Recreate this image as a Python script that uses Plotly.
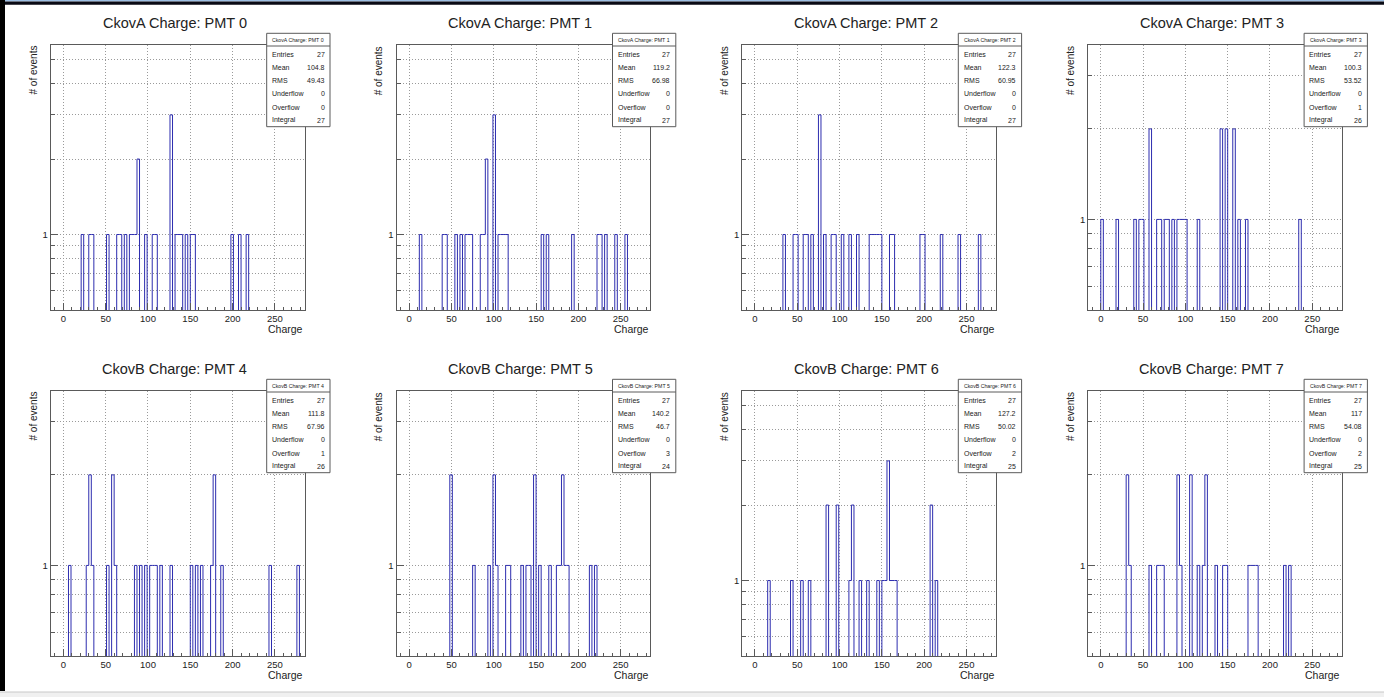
import math
import plotly.graph_objects as go

W, H = 1384, 697

# ---- histogram contents (bin centres of the filled bins and their counts) ----
titles = ["CkovA Charge: PMT 0", "CkovA Charge: PMT 1", "CkovA Charge: PMT 2", "CkovA Charge: PMT 3",
          "CkovB Charge: PMT 4", "CkovB Charge: PMT 5", "CkovB Charge: PMT 6", "CkovB Charge: PMT 7"]

pmt0_charge = [22.5, 31.5, 34.5, 52.5, 64.5, 67.5, 73.5, 79.5, 82.5, 85.5, 88.5, 97.5, 106.5, 109.5,
               127.5, 133.5, 136.5, 139.5, 145.5, 151.5, 154.5, 199.5, 208.5, 217.5]
pmt0_counts = [1, 1, 1, 1, 1, 1, 1, 1, 1, 1, 2, 1, 1, 1, 3, 1, 1, 1, 1, 1, 1, 1, 1, 1]

pmt1_charge = [13.5, 40.5, 43.5, 55.5, 61.5, 67.5, 70.5, 73.5, 85.5, 88.5, 91.5, 100.5, 106.5, 109.5,
               112.5, 115.5, 157.5, 163.5, 193.5, 223.5, 226.5, 232.5, 244.5, 256.5]
pmt1_counts = [1, 1, 1, 1, 1, 1, 1, 1, 1, 1, 2, 3, 1, 1, 1, 1, 1, 1, 1, 1, 1, 1, 1, 1]

pmt2_charge = [34.5, 46.5, 49.5, 58.5, 61.5, 67.5, 76.5, 82.5, 91.5, 94.5, 103.5, 112.5, 121.5, 136.5,
               139.5, 142.5, 145.5, 148.5, 160.5, 163.5, 196.5, 199.5, 220.5, 241.5, 265.5]
pmt2_counts = [1, 1, 1, 1, 1, 1, 3, 1, 1, 1, 1, 1, 1, 1, 1, 1, 1, 1, 1, 1, 1, 1, 1, 1, 1]

pmt3_charge = [1.5, 19.5, 40.5, 46.5, 49.5, 58.5, 67.5, 70.5, 76.5, 79.5, 85.5, 91.5, 94.5, 97.5,
               100.5, 115.5, 142.5, 148.5, 157.5, 163.5, 172.5, 235.5]
pmt3_counts = [1, 1, 1, 1, 1, 2, 1, 1, 1, 1, 1, 1, 1, 1, 1, 1, 2, 2, 2, 1, 1, 1]

pmt4_charge = [7.5, 28.5, 31.5, 34.5, 52.5, 58.5, 61.5, 85.5, 91.5, 97.5, 103.5, 106.5, 109.5, 115.5,
               127.5, 151.5, 157.5, 163.5, 175.5, 178.5, 187.5, 244.5, 277.5]
pmt4_counts = [1, 1, 2, 1, 1, 2, 1, 1, 1, 1, 1, 1, 1, 1, 1, 1, 1, 1, 1, 2, 1, 1, 1]

pmt5_charge = [49.5, 76.5, 94.5, 100.5, 103.5, 115.5, 118.5, 133.5, 139.5, 142.5, 148.5, 154.5, 166.5,
               175.5, 178.5, 181.5, 184.5, 187.5, 214.5, 220.5]
pmt5_counts = [2, 1, 1, 2, 1, 1, 1, 1, 1, 1, 2, 1, 1, 1, 1, 2, 1, 1, 1, 1]

pmt6_charge = [16.5, 43.5, 55.5, 64.5, 85.5, 97.5, 112.5, 115.5, 124.5, 133.5, 145.5, 151.5, 154.5,
               157.5, 160.5, 163.5, 166.5, 208.5, 214.5]
pmt6_counts = [1, 1, 1, 1, 2, 2, 1, 2, 1, 1, 1, 1, 1, 3, 1, 1, 1, 2, 1]

pmt7_charge = [31.5, 34.5, 58.5, 67.5, 70.5, 73.5, 91.5, 94.5, 106.5, 115.5, 121.5, 124.5, 136.5,
               145.5, 148.5, 175.5, 178.5, 181.5, 184.5, 217.5, 223.5]
pmt7_counts = [2, 1, 1, 1, 1, 1, 2, 1, 2, 1, 1, 2, 1, 1, 1, 1, 1, 1, 1, 1, 1]

charges = [pmt0_charge, pmt1_charge, pmt2_charge, pmt3_charge,
           pmt4_charge, pmt5_charge, pmt6_charge, pmt7_charge]
counts = [pmt0_counts, pmt1_counts, pmt2_counts, pmt3_counts,
          pmt4_counts, pmt5_counts, pmt6_counts, pmt7_counts]

# statistics box entries
stat_mean = [104.8, 119.2, 122.3, 100.3, 111.8, 140.2, 127.2, 117]
stat_rms = [49.43, 66.98, 60.95, 53.52, 67.96, 46.7, 50.02, 54.08]
stat_underflow = [0, 0, 0, 0, 0, 0, 0, 0]
stat_overflow = [0, 0, 0, 1, 1, 3, 2, 2]

# binning: 100 bins from -15 to 285
N_BINS, X_LO, X_HI = 100, -15.0, 285.0
BIN_W = (X_HI - X_LO) / N_BINS
x_ticks = [0, 50, 100, 150, 200, 250]
y_major = [1]
y_minor = [0.6, 0.7, 0.8, 0.9, 2, 3, 4, 5]

FONT = "Liberation Sans, Arial, Helvetica, sans-serif"
TXT = "#222222"
HIST_COLOR = "rgb(45,45,175)"
FRAME = "#5a5a5a"
GRID = "#9a9a9a"
GRID_DASH = "1px,2px"


def px(x):
    return x / W


def py(y):
    return 1 - y / H


fig = go.Figure()
shapes = []
annotations = []
layout_axes = {}

for i in range(8):
    col, row = i % 4, i // 4
    ox, oy = col * 345.8, row * 346.0
    n = "" if i == 0 else str(i + 1)

    # fill the histogram bins
    h = [0] * N_BINS
    for c, v in zip(charges[i], counts[i]):
        h[int((c - X_LO) // BIN_W)] += v
    edges = [X_LO + k * BIN_W for k in range(N_BINS + 1)]
    ys = [v if v > 0 else 1e-3 for v in h]
    ys = ys + [ys[-1]]

    fig.add_trace(go.Scatter(
        x=edges, y=ys, mode="lines", line=dict(color=HIST_COLOR, width=1, shape="hv"),
        xaxis="x" + n, yaxis="y" + n, hoverinfo="skip", showlegend=False))

    ymax = max(h)
    y_range = [math.log10(0.5), math.log10(ymax * 1.9)]

    layout_axes["xaxis" + n] = dict(
        domain=[px(50.7 + ox), px(304.5 + ox)], anchor="y" + n,
        range=[X_LO, X_HI], tickmode="array", tickvals=x_ticks,
        ticks="inside", ticklen=7, tickcolor=FRAME, tickwidth=1,
        showline=True, linecolor=FRAME, linewidth=1, mirror=True,
        showgrid=True, gridcolor=GRID, griddash=GRID_DASH, gridwidth=1,
        zeroline=False, fixedrange=True,
        tickfont=dict(family=FONT, size=9.5, color=TXT),
        minor=dict(tickmode="linear", tick0=0, dtick=10, ticks="inside", ticklen=3.5,
                   tickcolor=FRAME, showgrid=False),
    )
    layout_axes["yaxis" + n] = dict(
        domain=[py(310 + oy), py(45 + oy)], anchor="x" + n,
        type="log", range=y_range,
        tickmode="array", tickvals=y_major, ticktext=["1"],
        ticks="inside", ticklen=7, tickcolor=FRAME, tickwidth=1,
        showline=True, linecolor=FRAME, linewidth=1, mirror=True,
        showgrid=True, gridcolor=GRID, griddash=GRID_DASH, gridwidth=1,
        zeroline=False, fixedrange=True,
        tickfont=dict(family=FONT, size=9.5, color=TXT),
        minor=dict(tickmode="array", tickvals=y_minor, ticks="inside", ticklen=4,
                   tickcolor=FRAME, showgrid=True, gridcolor=GRID, griddash=GRID_DASH),
    )

    # pad title
    annotations.append(dict(x=px(174.5 + ox), y=py(23.3 + oy), xref="paper", yref="paper",
                            text=titles[i], showarrow=False, xanchor="center", yanchor="middle",
                            font=dict(family=FONT, size=14.5, color=TXT)))
    # axis titles
    annotations.append(dict(x=px(33 + ox), y=py(70.5 + oy), xref="paper", yref="paper",
                            text="# of events", textangle=-90, showarrow=False,
                            xanchor="center", yanchor="middle",
                            font=dict(family=FONT, size=10, color=TXT)))
    annotations.append(dict(x=px(305 + ox), y=py(329 + oy), xref="paper", yref="paper",
                            text="Charge", showarrow=False, xanchor="right", yanchor="middle",
                            font=dict(family=FONT, size=10.5, color=TXT)))

    # statistics box
    bx0, bx1, by0, by1 = 266.7 + ox, 330 + ox, 33.3 + oy, 126.7 + oy
    shapes.append(dict(type="rect", xref="paper", yref="paper",
                       x0=px(bx0), x1=px(bx1), y0=py(by1), y1=py(by0),
                       line=dict(color=FRAME, width=1), fillcolor="white", layer="above"))
    shapes.append(dict(type="line", xref="paper", yref="paper",
                       x0=px(bx0), x1=px(bx1), y0=py(46 + oy), y1=py(46 + oy),
                       line=dict(color=FRAME, width=1), layer="above"))
    annotations.append(dict(x=px((bx0 + bx1) / 2), y=py(39.6 + oy), xref="paper", yref="paper",
                            text=titles[i], showarrow=False, xanchor="center", yanchor="middle",
                            font=dict(family=FONT, size=5.2, color=TXT)))
    integral = sum(counts[i])
    entries = integral + stat_underflow[i] + stat_overflow[i]
    rows = [("Entries", f"{entries}"), ("Mean", f"{stat_mean[i]:g}"), ("RMS", f"{stat_rms[i]:g}"),
            ("Underflow", f"{stat_underflow[i]}"), ("Overflow", f"{stat_overflow[i]}"),
            ("Integral", f"{integral}")]
    for j, (lab, val) in enumerate(rows):
        yy = py(54 + 13.25 * j + oy)
        annotations.append(dict(x=px(270 + ox), y=yy, xref="paper", yref="paper", text=lab,
                                showarrow=False, xanchor="left", yanchor="middle",
                                font=dict(family=FONT, size=7, color=TXT)))
        annotations.append(dict(x=px(326.5 + ox), y=yy, xref="paper", yref="paper", text=val,
                                showarrow=False, xanchor="right", yanchor="middle",
                                font=dict(family=FONT, size=7, color=TXT)))

# window edges around the canvas
shapes.append(dict(type="rect", xref="paper", yref="paper", x0=0, x1=1, y0=py(1.6), y1=1,
                   line=dict(width=0), fillcolor="#9dbfe3", layer="above"))
shapes.append(dict(type="rect", xref="paper", yref="paper", x0=0, x1=1, y0=py(4.8), y1=py(1.6),
                   line=dict(width=0), fillcolor="#0a0a14", layer="above"))
shapes.append(dict(type="line", xref="paper", yref="paper", x0=px(2.5), x1=px(2.5),
                   y0=py(691), y1=1, line=dict(color="#000000", width=5), layer="above"))
shapes.append(dict(type="rect", xref="paper", yref="paper", x0=0, x1=1, y0=0, y1=py(692),
                   line=dict(width=0), fillcolor="#f0f0f0", layer="above"))
shapes.append(dict(type="line", xref="paper", yref="paper", x0=0, x1=1, y0=py(692), y1=py(692),
                   line=dict(color="#c8c8c8", width=1), layer="above"))

fig.update_layout(
    width=W, height=H, margin=dict(l=0, r=0, t=0, b=0),
    paper_bgcolor="white", plot_bgcolor="white", showlegend=False,
    shapes=shapes, annotations=annotations, **layout_axes,
)

fig.write_html("out.html")
